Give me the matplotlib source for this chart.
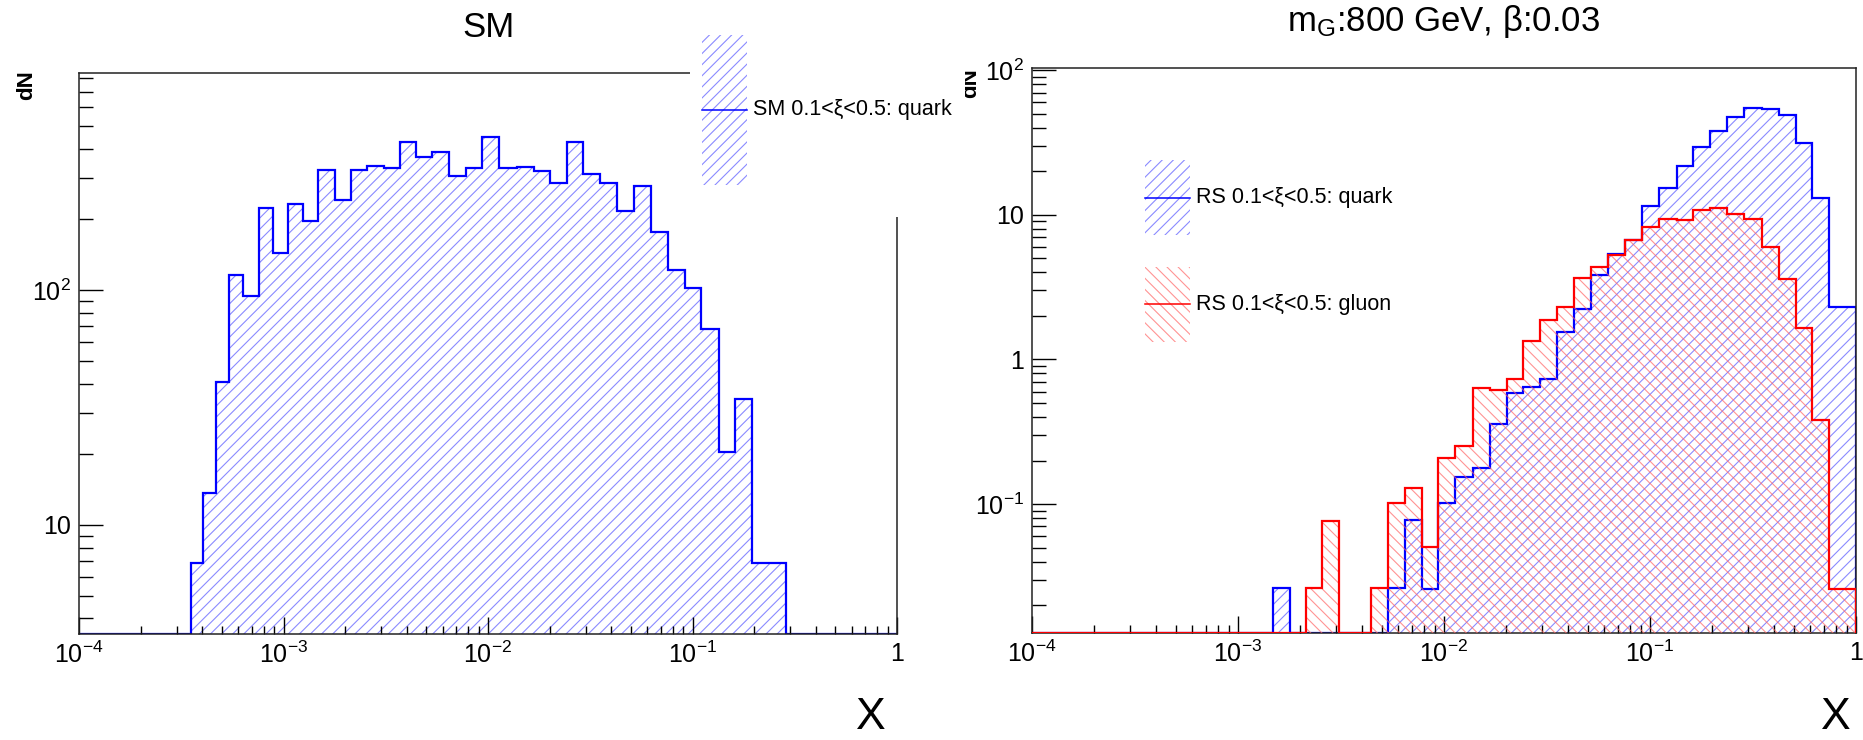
"""
Recreate the two-panel ROOT-style x distribution plot (SM vs RS graviton).
"""
import numpy as np
import matplotlib
matplotlib.use("Agg")
import matplotlib.pyplot as plt
from matplotlib.patches import Rectangle
from matplotlib.lines import Line2D
from matplotlib.ticker import FixedLocator, LogLocator, NullFormatter

# bin edges in log10(x), shared by all three histograms
log_edges = [-4.0, -3.454, -3.393, -3.330, -3.267, -3.197, -3.122, -3.053, -2.980,
             -2.904, -2.830, -2.748, -2.670, -2.591, -2.509, -2.432, -2.352, -2.272,
             -2.191, -2.109, -2.028, -1.946, -1.858, -1.777, -1.695, -1.615, -1.534,
             -1.452, -1.371, -1.284, -1.202, -1.121, -1.038, -0.956, -0.871, -0.790,
             -0.708, -0.627, -0.545, -0.458, -0.374, -0.293, -0.212, -0.130, 0.0]

sm_quark = [0, 6.87, 13.7, 40.7, 115.8, 94.6, 222.6, 143.3, 231.5, 196.7, 324, 242,
            324, 336, 331.6, 427, 367, 385.5, 305.5, 331.6, 449, 331.6, 335, 319.8,
            286, 427, 312.6, 286, 217, 278, 177, 121.6, 101.6, 68.2, 20.4, 34.3, 6.9,
            6.9, 0, 0, 0, 0, 0, 0]

rs_quark = [0, 0, 0, 0, 0, 0, 0, 0, 0, 0, 0.0261, 0, 0, 0, 0, 0, 0, 0.0261, 0.0773,
            0.0259, 0.102, 0.155, 0.1786, 0.358, 0.583, 0.640, 0.737, 1.55, 2.22,
            3.83, 5.38, 6.65, 11.56, 15.4, 21.7, 29.6, 37.9, 47.6, 55.0, 53.6, 48.9,
            31.5, 13.1, 2.32]

rs_gluon = [0, 0, 0, 0, 0, 0, 0, 0, 0, 0, 0, 0, 0.0261, 0.0769, 0, 0, 0.0261, 0.102,
            0.129, 0.0508, 0.2075, 0.2525, 0.634, 0.61, 0.737, 1.34, 1.88, 2.31, 3.64,
            4.34, 5.28, 6.72, 8.26, 9.4, 9.24, 10.8, 11.2, 10.05, 9.4, 5.97, 3.58,
            1.66, 0.379, 0.026]

x_ticks = [1e-4, 1e-3, 1e-2, 1e-1, 1]
x_tick_labels = [r"$10^{-4}$", r"$10^{-3}$", r"$10^{-2}$", r"$10^{-1}$", "1"]
left_y_ticks = [10, 100]
left_y_labels = ["10", r"$10^{2}$"]
right_y_ticks = [0.1, 1, 10, 100]
right_y_labels = [r"$10^{-1}$", "1", "10", r"$10^{2}$"]

W, H = 1863, 740


def fx(px):
    return px / W


def fy(py):
    return 1 - py / H


def draw_hist(ax, vals, color, hatch_color, hatch, base, z):
    vals = np.asarray(vals, dtype=float)
    edges = 10 ** np.asarray(log_edges)
    shown = np.where(vals > 0, vals, base)
    ax.stairs(shown, edges, baseline=base * 0.01, fill=True, facecolor="none",
              edgecolor=hatch_color, hatch=hatch, linewidth=0, zorder=z)
    ax.stairs(shown, edges, baseline=base * 0.01, fill=False, color=color,
              linewidth=1.6, zorder=z + 0.1)


def style_axes(ax, ylim, yticks, ylabels):
    ax.set_xscale("log")
    ax.set_yscale("log")
    ax.set_xlim(1e-4, 1)
    ax.set_ylim(*ylim)
    ax.xaxis.set_major_locator(FixedLocator(x_ticks))
    ax.xaxis.set_ticklabels(x_tick_labels)
    ax.xaxis.set_minor_locator(LogLocator(base=10, subs=np.arange(2, 10)))
    ax.xaxis.set_minor_formatter(NullFormatter())
    ax.yaxis.set_major_locator(FixedLocator(yticks))
    ax.yaxis.set_ticklabels(ylabels)
    ax.yaxis.set_minor_locator(LogLocator(base=10, subs=np.arange(2, 10)))
    ax.yaxis.set_minor_formatter(NullFormatter())
    ax.tick_params(axis="both", which="both", direction="in", width=1.0,
                   labelsize=18, top=False, right=False)
    ax.tick_params(axis="x", which="major", length=12, pad=6)
    ax.tick_params(axis="x", which="minor", length=6)
    ax.tick_params(axis="y", which="major", length=17, pad=6)
    ax.tick_params(axis="y", which="minor", length=10)
    for s in ax.spines.values():
        s.set_linewidth(1.1)
        s.set_color("#222222")
    ax.set_facecolor("none")


def legend_entry(fig, x0, x1, y0, y1, color, hatch_color, hatch, text):
    fig.add_artist(Rectangle((fx(x0), fy(y1)), fx(x1) - fx(x0), fy(y0) - fy(y1),
                             transform=fig.transFigure, facecolor="none",
                             edgecolor=hatch_color, hatch=hatch, linewidth=0, zorder=6))
    ym = (y0 + y1) / 2
    fig.add_artist(Line2D([fx(x0), fx(x1)], [fy(ym), fy(ym)], transform=fig.transFigure,
                          color=color, linewidth=1.1, zorder=7))
    fig.text(fx(x1 + 6), fy(ym), text, ha="left", va="center", fontsize=15.5, zorder=7)


def main():
    plt.rcParams["font.family"] = ["Liberation Sans", "DejaVu Sans"]
    plt.rcParams["mathtext.fontset"] = "custom"
    plt.rcParams["mathtext.rm"] = "Liberation Sans"
    plt.rcParams["mathtext.it"] = "Liberation Sans:italic"
    plt.rcParams["mathtext.bf"] = "Liberation Sans:bold"
    plt.rcParams["hatch.linewidth"] = 0.8

    blue_hatch = (0.35, 0.35, 1.0, 0.7)
    red_hatch = (1.0, 0.4, 0.4, 0.7)

    fig = plt.figure(figsize=(W / 100, H / 100), dpi=100)

    # left panel: SM
    ax1 = fig.add_axes([fx(79), fy(633.5), fx(897) - fx(79), fy(72.5) - fy(633.5)])
    draw_hist(ax1, sm_quark, "#0000ff", blue_hatch, "///", 3.45, 1.0)
    style_axes(ax1, (3.45, 844), left_y_ticks, left_y_labels)

    # right panel: RS graviton
    ax2 = fig.add_axes([fx(1032), fy(632.7), fx(1856) - fx(1032), fy(68.4) - fy(632.7)])
    draw_hist(ax2, rs_quark, "#0000ff", blue_hatch, "///", 0.0129, 1.0)
    draw_hist(ax2, rs_gluon, "#ff0000", red_hatch, "\\\\\\", 0.0129, 2.6)
    style_axes(ax2, (0.0129, 102.8), right_y_ticks, right_y_labels)

    # titles and axis titles
    fig.text(fx(488), fy(37), "SM", ha="center", va="baseline", fontsize=25)
    fig.text(fx(1444), fy(31), r"m$_{\mathrm{G}}$:800 GeV, β:0.03", ha="center",
             va="baseline", fontsize=25)
    fig.text(fx(871), fy(738), "X", ha="center", va="bottom", fontsize=32)
    fig.text(fx(1836), fy(738), "X", ha="center", va="bottom", fontsize=32)
    fig.text(fx(26.5), fy(70), "dN", rotation=90, ha="center", va="top",
             fontsize=16, fontweight="bold")
    fig.text(fx(971), fy(68), "dN", rotation=90, ha="center", va="top",
             fontsize=16, fontweight="bold")

    # left legend: white box that hides the frame corner
    fig.add_artist(Rectangle((fx(690), fy(217)), fx(965) - fx(690), fy(45) - fy(217),
                             transform=fig.transFigure, facecolor="white",
                             edgecolor="none", zorder=5))
    legend_entry(fig, 702, 747, 35, 185, "#0000ff", blue_hatch, "///",
                 "SM 0.1<ξ<0.5: quark")

    # right legend
    legend_entry(fig, 1145, 1190, 160, 235, "#0000ff", blue_hatch, "///",
                 "RS 0.1<ξ<0.5: quark")
    legend_entry(fig, 1145, 1190, 267, 342, "#ff0000", red_hatch, "\\\\\\",
                 "RS 0.1<ξ<0.5: gluon")

    fig.savefig("out.png", dpi=100)


if __name__ == '__main__':
    main()
